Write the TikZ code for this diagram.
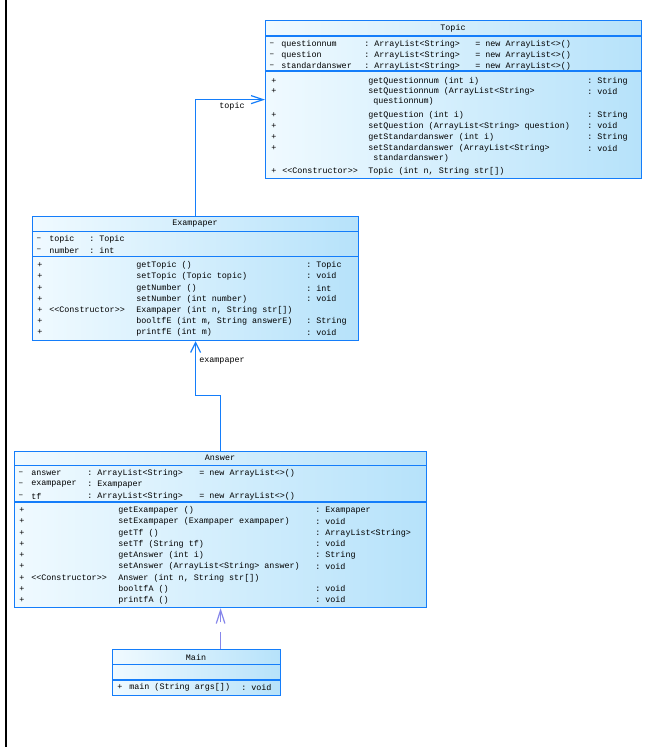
\documentclass[tikz,border=0pt]{standalone}
\usepackage{fontspec}
\setmonofont{Liberation Mono}
\usetikzlibrary{arrows.meta}
\definecolor{boxblue}{RGB}{20,125,250}
\definecolor{fillA}{RGB}{240,250,255}
\definecolor{fillB}{RGB}{182,226,250}
\definecolor{depcol}{RGB}{135,135,235}
\newcounter{tn}
\newcommand\tx[3]{\stepcounter{tn}\node[txt] (t\arabic{tn}) at (#1,#2) {#3};}
\tikzset{
  classbox/.style={draw=boxblue, line width=0.9pt, left color=fillA, right color=fillB, inner sep=0pt, anchor=north west},
  sepline/.style={draw=boxblue, line width=0.9pt},
  txt/.style={font=\ttfamily\fontsize{6.3pt}{7pt}\selectfont, anchor=west, inner sep=0pt},
  ttl/.style={font=\ttfamily\fontsize{6.3pt}{7pt}\selectfont, anchor=center, inner sep=0pt},
  assoc/.style={draw=boxblue, line width=0.9pt},
  lbl/.style={font=\ttfamily\fontsize{6.3pt}{7pt}\selectfont, inner sep=0pt},
}
\begin{document}
\begin{tikzpicture}[x=0.75pt,y=-0.75pt]
\useasboundingbox (0,0) rectangle (644,747);
\fill[white] (0,0) rectangle (644,747);
\draw[black, line width=1pt] (6,0) -- (6,747);

% ---------- Topic ----------
\node[classbox, minimum width=282pt, minimum height=118.5pt] (topic) at (265,20) {};
\draw[sepline] (265,36) -- (641,36);
\draw[sepline] (265,71) -- (641,71);
\node[ttl] (topicT) at (453,28) {Topic};
\tx{269}{44}{–}\tx{281}{44}{questionnum}\tx{364}{44}{: ArrayList<String>}\tx{475}{44}{= new ArrayList<>()}
\tx{269}{55}{–}\tx{281}{55}{question}\tx{364}{55}{: ArrayList<String>}\tx{475}{55}{= new ArrayList<>()}
\tx{269}{66}{–}\tx{281}{66}{standardanswer}\tx{364}{66}{: ArrayList<String>}\tx{475}{66}{= new ArrayList<>()}
\tx{271}{81}{+}\tx{368}{81}{getQuestionnum (int i)}\tx{587}{81}{: String}
\tx{271}{91.5}{+}\tx{368}{91.5}{setQuestionnum (ArrayList<String>}\tx{587}{91.5}{: void}
\tx{373}{101}{questionnum)}
\tx{271}{115}{+}\tx{368}{115}{getQuestion (int i)}\tx{587}{115}{: String}
\tx{271}{126}{+}\tx{368}{126}{setQuestion (ArrayList<String> question)}\tx{587}{126}{: void}
\tx{271}{137}{+}\tx{368}{137}{getStandardanswer (int i)}\tx{587}{137}{: String}
\tx{271}{148.5}{+}\tx{368}{148.5}{setStandardanswer (ArrayList<String>}\tx{587}{148.5}{: void}
\tx{373}{158}{standardanswer)}
\tx{271}{171}{+}\tx{282}{171}{<<Constructor>>}\tx{368}{171}{Topic (int n, String str[])}

% ---------- Exampaper ----------
\node[classbox, minimum width=244.5pt, minimum height=93pt] (exampaper) at (32,216) {};
\draw[sepline] (32,231.5) -- (358,231.5);
\draw[sepline] (32,256.5) -- (358,256.5);
\node[ttl] (exampaperT) at (195,224) {Exampaper};
\tx{36}{239}{–}\tx{49}{239}{topic}\tx{89}{239}{: Topic}
\tx{36}{250}{–}\tx{49}{250}{number}\tx{89}{250}{: int}
\tx{37}{265}{+}\tx{136}{265}{getTopic ()}\tx{306}{265}{: Topic}
\tx{37}{276}{+}\tx{136}{276}{setTopic (Topic topic)}\tx{306}{276}{: void}
\tx{37}{288}{+}\tx{136}{288}{getNumber ()}\tx{306}{288}{: int}
\tx{37}{299}{+}\tx{136}{299}{setNumber (int number)}\tx{306}{299}{: void}
\tx{37}{310}{+}\tx{49}{310}{<<Constructor>>}\tx{136}{310}{Exampaper (int n, String str[])}
\tx{37}{321}{+}\tx{136}{321}{booltfE (int m, String answerE)}\tx{306}{321}{: String}
\tx{37}{332.5}{+}\tx{136}{332.5}{printfE (int m)}\tx{306}{332.5}{: void}

% ---------- Answer ----------
\node[classbox, minimum width=309pt, minimum height=117.4pt] (answer) at (14,450.5) {};
\draw[sepline] (14,465.5) -- (426,465.5);
\draw[sepline] (14,502) -- (426,502);
\node[ttl] (answerT) at (220,458) {Answer};
\tx{18}{473}{–}\tx{31}{473}{answer}\tx{87}{473}{: ArrayList<String>}\tx{199}{473}{= new ArrayList<>()}
\tx{18}{484.5}{–}\tx{31}{484.5}{exampaper}\tx{87}{484.5}{: Exampaper}
\tx{18}{496}{–}\tx{31}{496}{tf}\tx{87}{496}{: ArrayList<String>}\tx{199}{496}{= new ArrayList<>()}
\tx{19}{510.5}{+}\tx{118}{510.5}{getExampaper ()}\tx{315}{510.5}{: Exampaper}
\tx{19}{521.5}{+}\tx{118}{521.5}{setExampaper (Exampaper exampaper)}\tx{315}{521.5}{: void}
\tx{19}{533}{+}\tx{118}{533}{getTf ()}\tx{315}{533}{: ArrayList<String>}
\tx{19}{544}{+}\tx{118}{544}{setTf (String tf)}\tx{315}{544}{: void}
\tx{19}{555.5}{+}\tx{118}{555.5}{getAnswer (int i)}\tx{315}{555.5}{: String}
\tx{19}{566.5}{+}\tx{118}{566.5}{setAnswer (ArrayList<String> answer)}\tx{315}{566.5}{: void}
\tx{19}{578}{+}\tx{31}{578}{<<Constructor>>}\tx{118}{578}{Answer (int n, String str[])}
\tx{19}{589}{+}\tx{118}{589}{booltfA ()}\tx{315}{589}{: void}
\tx{19}{600}{+}\tx{118}{600}{printfA ()}\tx{315}{600}{: void}

% ---------- Main ----------
\node[classbox, minimum width=126pt, minimum height=34.5pt] (main) at (112,649) {};
\draw[sepline] (112,664.5) -- (280,664.5);
\draw[sepline] (112,680) -- (280,680);
\node[ttl] (mainT) at (196,657) {Main};
\tx{117}{687.5}{+}\tx{129}{687.5}{main (String args[])}\tx{241}{687.5}{: void}

% ---------- connectors ----------
\draw[assoc, -{Straight Barb[length=9pt,width=6pt]}] (exampaper.north) |- (topic.west);
\node[lbl] (topicL) at (232,106) {topic};
\draw[assoc, -{Straight Barb[length=7.5pt,width=7.5pt]}] (answer.north) -- ++(0,-55) -| (exampaper.south);
\node[lbl] (exampaperL) at (222,361) {exampaper};
\draw[draw=depcol, line width=0.9pt, dash pattern=on 13pt off 7pt on 20pt, -{Straight Barb[length=10pt,width=6.5pt]}] (main.north -| answer.south) -- (answer.south);
\end{tikzpicture}
\end{document}
